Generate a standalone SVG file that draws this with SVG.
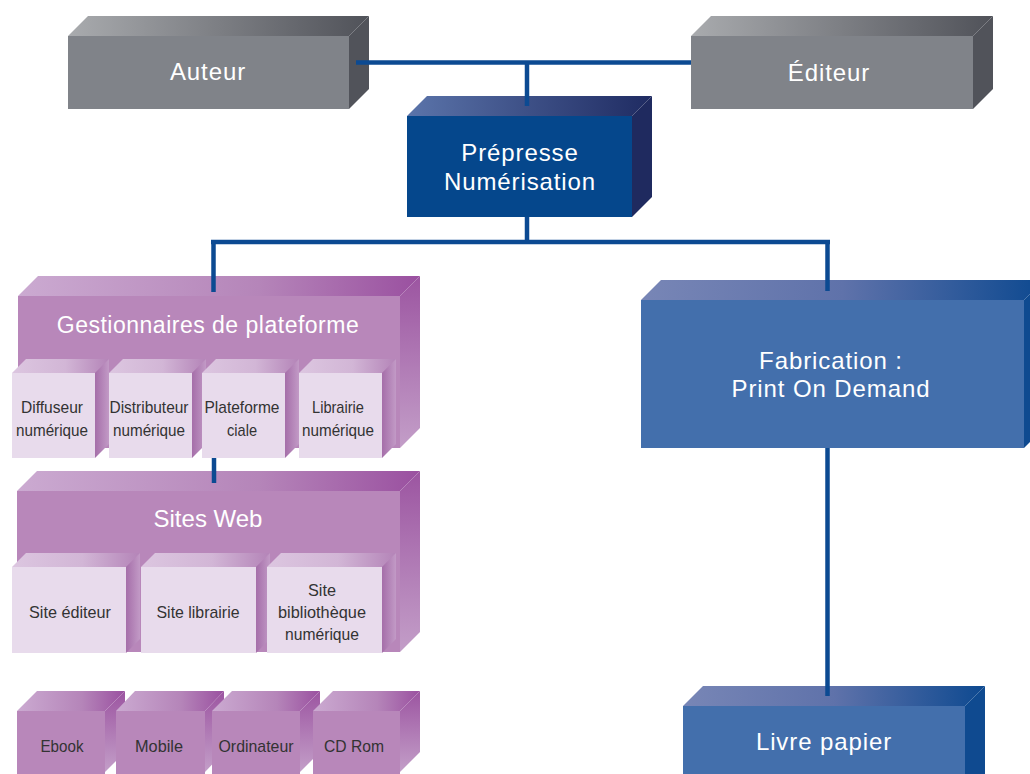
<svg xmlns="http://www.w3.org/2000/svg" width="1030" height="774" viewBox="0 0 1030 774">
<defs>
<linearGradient id="gTopGray" x1="0" y1="0" x2="1" y2="0"><stop offset="0" stop-color="#a9abae"/><stop offset="1" stop-color="#505259"/></linearGradient>
<linearGradient id="gTopDark" x1="0" y1="0" x2="1" y2="0"><stop offset="0" stop-color="#5b74aa"/><stop offset="1" stop-color="#1f2b62"/></linearGradient>
<linearGradient id="gTopMid" x1="0" y1="0" x2="1" y2="0"><stop offset="0" stop-color="#7886b6"/><stop offset="0.5" stop-color="#5f72aa"/><stop offset="1" stop-color="#0d4990"/></linearGradient>
<linearGradient id="gTopPurple" x1="0" y1="0" x2="1" y2="0"><stop offset="0" stop-color="#cbaad1"/><stop offset="0.6" stop-color="#b585b9"/><stop offset="1" stop-color="#9a50a0"/></linearGradient>
<linearGradient id="gSidePurple" x1="0" y1="0" x2="0" y2="1"><stop offset="0" stop-color="#9c55a1"/><stop offset="1" stop-color="#c39ec8"/></linearGradient>
<linearGradient id="gTopLight" x1="0" y1="0" x2="1" y2="0"><stop offset="0" stop-color="#dcc6e0"/><stop offset="0.55" stop-color="#d2b6d6"/><stop offset="1" stop-color="#b484b8"/></linearGradient>
<linearGradient id="gSideLight" x1="0" y1="0" x2="1" y2="0"><stop offset="0" stop-color="#a56ea9"/><stop offset="1" stop-color="#c29ac6"/></linearGradient>
</defs>
<style>
.grayF{fill:#808389}.grayT{fill:url(#gTopGray)}.grayS{fill:#51535a}
.darkF{fill:#05478c}.darkT{fill:url(#gTopDark)}.darkS{fill:#1f2a5f}
.midF{fill:#436fac}.midT{fill:url(#gTopMid)}.midS{fill:#0f4a90}
.purF{fill:#b887ba}.purT{fill:url(#gTopPurple)}.purS{fill:url(#gSidePurple)}
.litF{fill:#e8dbec}.litT{fill:url(#gTopLight)}.litS{fill:url(#gSideLight)}
.h{font-family:"Liberation Sans",Arial,sans-serif;font-size:24px;fill:#ffffff;text-anchor:middle;letter-spacing:0.9px}
.s{font-family:"Liberation Sans",Arial,sans-serif;font-size:17px;fill:#333333;text-anchor:middle}
.c{stroke:#0c4a92;stroke-width:4.5;fill:none}
</style>

<g id="auteur">
<polygon class="grayT" points="68,36 88,16 369,16 349,36"/>
<polygon class="grayS" points="349,36 369,16 369,89 349,109"/>
<rect class="grayF" x="68" y="36" width="281" height="73"/>
<text class="h" x="208" y="80">Auteur</text>
</g>

<g id="editeur">
<polygon class="grayT" points="691,36 711,16 993,16 973,36"/>
<polygon class="grayS" points="973,36 993,16 993,89 973,109"/>
<rect class="grayF" x="691" y="36" width="282" height="73"/>
<text class="h" x="829" y="81">Éditeur</text>
</g>

<g id="prepresse">
<polygon class="darkT" points="407,116 427,96 652,96 632,116"/>
<polygon class="darkS" points="632,116 652,96 652,197 632,217"/>
<rect class="darkF" x="407" y="116" width="225" height="101"/>
<text class="h" x="520" y="161">Prépresse</text>
<text class="h" x="520" y="190">Numérisation</text>
</g>

<g id="gestionnaires">
<polygon class="purT" points="18,296 38,276 420,276 400,296"/>
<polygon class="purS" points="400,296 420,276 420,428 400,448"/>
<rect class="purF" x="18" y="296" width="382" height="152"/>
<text class="h" x="208" y="333" style="font-size:23px;letter-spacing:0.5px">Gestionnaires de plateforme</text>
</g>

<g id="diffuseur">
<polygon class="litT" points="12,373 26,359 109,359 95,373"/>
<polygon class="litS" points="95,373 109,359 109,444 95,458"/>
<rect class="litF" x="12" y="373" width="83" height="85"/>
<text class="s" x="52" y="413" textLength="62" lengthAdjust="spacingAndGlyphs">Diffuseur</text>
<text class="s" x="52" y="436" textLength="72" lengthAdjust="spacingAndGlyphs">numérique</text>
</g>
<g id="distributeur">
<polygon class="litT" points="109,373 123,359 206,359 192,373"/>
<polygon class="litS" points="192,373 206,359 206,444 192,458"/>
<rect class="litF" x="109" y="373" width="83" height="85"/>
<text class="s" x="149" y="413" textLength="79" lengthAdjust="spacingAndGlyphs">Distributeur</text>
<text class="s" x="149" y="436" textLength="72" lengthAdjust="spacingAndGlyphs">numérique</text>
</g>
<g id="plateforme">
<polygon class="litT" points="202,373 216,359 299,359 285,373"/>
<polygon class="litS" points="285,373 299,359 299,444 285,458"/>
<rect class="litF" x="202" y="373" width="83" height="85"/>
<text class="s" x="242" y="413" textLength="75" lengthAdjust="spacingAndGlyphs">Plateforme</text>
<text class="s" x="242" y="436" textLength="30" lengthAdjust="spacingAndGlyphs">ciale</text>
</g>
<g id="librairie">
<polygon class="litT" points="299,373 313,359 396,359 382,373"/>
<polygon class="litS" points="382,373 396,359 396,444 382,458"/>
<rect class="litF" x="299" y="373" width="83" height="85"/>
<text class="s" x="338" y="413" textLength="52" lengthAdjust="spacingAndGlyphs">Librairie</text>
<text class="s" x="338" y="436" textLength="72" lengthAdjust="spacingAndGlyphs">numérique</text>
</g>

<g id="sitesweb">
<polygon class="purT" points="17,491 37,471 420,471 400,491"/>
<polygon class="purS" points="400,491 420,471 420,632 400,652"/>
<rect class="purF" x="17" y="491" width="383" height="161"/>
<text class="h" x="208" y="527" style="letter-spacing:0px">Sites Web</text>
</g>

<g id="site-editeur">
<polygon class="litT" points="12,567 26,553 140,553 126,567"/>
<polygon class="litS" points="126,567 140,553 140,639 126,653"/>
<rect class="litF" x="12" y="567" width="114" height="86"/>
<text class="s" x="70" y="618" textLength="82" lengthAdjust="spacingAndGlyphs">Site éditeur</text>
</g>
<g id="site-librairie">
<polygon class="litT" points="141,567 155,553 270,553 256,567"/>
<polygon class="litS" points="256,567 270,553 270,639 256,653"/>
<rect class="litF" x="141" y="567" width="115" height="86"/>
<text class="s" x="198" y="618" textLength="83" lengthAdjust="spacingAndGlyphs">Site librairie</text>
</g>
<g id="site-bibliotheque">
<polygon class="litT" points="267,567 281,553 396,553 382,567"/>
<polygon class="litS" points="382,567 396,553 396,639 382,653"/>
<rect class="litF" x="267" y="567" width="115" height="86"/>
<text class="s" x="322" y="596" textLength="28" lengthAdjust="spacingAndGlyphs">Site</text>
<text class="s" x="322" y="618" textLength="88" lengthAdjust="spacingAndGlyphs">bibliothèque</text>
<text class="s" x="322" y="640" textLength="74" lengthAdjust="spacingAndGlyphs">numérique</text>
</g>

<g id="ebook">
<polygon class="purT" points="17,711 37,691 125,691 105,711"/>
<polygon class="purS" points="105,711 125,691 125,752 105,772"/>
<rect class="purF" x="17" y="711" width="88" height="63"/>
<text class="s" x="62" y="752" textLength="43" lengthAdjust="spacingAndGlyphs">Ebook</text>
</g>
<g id="mobile">
<polygon class="purT" points="116,711 135,691 224,691 205,711"/>
<polygon class="purS" points="205,711 224,691 224,752 205,772"/>
<rect class="purF" x="116" y="711" width="89" height="63"/>
<text class="s" x="159" y="752" textLength="48" lengthAdjust="spacingAndGlyphs">Mobile</text>
</g>
<g id="ordinateur">
<polygon class="purT" points="212,711 232,691 320,691 300,711"/>
<polygon class="purS" points="300,711 320,691 320,752 300,772"/>
<rect class="purF" x="212" y="711" width="88" height="63"/>
<text class="s" x="256" y="752" textLength="75" lengthAdjust="spacingAndGlyphs">Ordinateur</text>
</g>
<g id="cdrom">
<polygon class="purT" points="313,711 333,691 420,691 400,711"/>
<polygon class="purS" points="400,711 420,691 420,752 400,772"/>
<rect class="purF" x="313" y="711" width="87" height="63"/>
<text class="s" x="354" y="752" textLength="60" lengthAdjust="spacingAndGlyphs">CD Rom</text>
</g>

<g id="fabrication">
<polygon class="midT" points="641,300 661,280 1044,280 1024,300"/>
<polygon class="midS" points="1024,300 1044,280 1044,428 1024,448"/>
<rect class="midF" x="641" y="300" width="383" height="148"/>
<text class="h" x="831" y="369">Fabrication :</text>
<text class="h" x="831" y="397">Print On Demand</text>
</g>

<g id="livre">
<polygon class="midT" points="683,706 703,686 985,686 965,706"/>
<polygon class="midS" points="965,706 985,686 985,774 965,774"/>
<rect class="midF" x="683" y="706" width="282" height="68"/>
<text class="h" x="824" y="750">Livre papier</text>
</g>

<g id="connectors">
<path class="c" d="M356,62.5 H691"/>
<path class="c" d="M527,62.5 V106"/>
<path class="c" d="M527,217 V242"/>
<path class="c" d="M211,242 H830"/>
<path class="c" d="M213.5,240 V292"/>
<path class="c" d="M827.5,240 V291"/>
<path class="c" d="M214,458 V483"/>
<path class="c" d="M827.5,448 V696"/>
</g>
</svg>
